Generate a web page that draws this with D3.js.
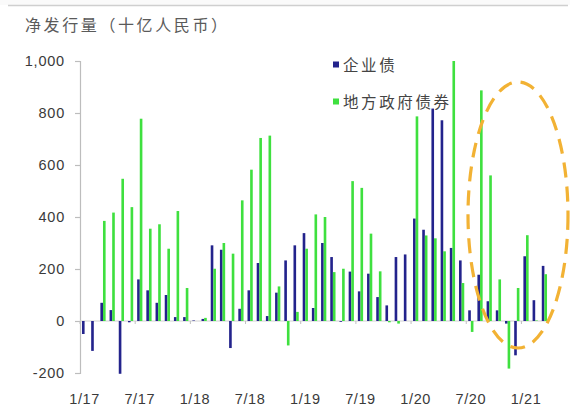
<!DOCTYPE html>
<html>
<head>
<meta charset="utf-8">
<script src="https://cdn.jsdelivr.net/npm/d3@7"></script>
<style>
  html, body { margin: 0; padding: 0; background: #fff; }
  svg { display: block; }
  text { font-family: "Liberation Sans", Arial, "Noto Sans CJK SC", sans-serif; }
  .cjk { font-family: "Noto Sans CJK SC", sans-serif; }
</style>
</head>
<body>
<svg id="chart" width="570" height="415"></svg>
<script>
// Monthly net issuance, Jan 2017 – Mar 2021 (RMB bn)
const months = [
  "2017-01","2017-02","2017-03","2017-04","2017-05","2017-06","2017-07","2017-08","2017-09","2017-10","2017-11","2017-12",
  "2018-01","2018-02","2018-03","2018-04","2018-05","2018-06","2018-07","2018-08","2018-09","2018-10","2018-11","2018-12",
  "2019-01","2019-02","2019-03","2019-04","2019-05","2019-06","2019-07","2019-08","2019-09","2019-10","2019-11","2019-12",
  "2020-01","2020-02","2020-03","2020-04","2020-05","2020-06","2020-07","2020-08","2020-09","2020-10","2020-11","2020-12",
  "2021-01","2021-02","2021-03"
];

const corporateBonds = [
  -50, -115, 70, 42, -203, -5, 160, 118, 70, 100, 15, 15,
  2, 8, 291, 274, -104, 47, 118, 223, 19, 109, 233, 291,
  338, 50, 300, 246, -3, 190, 114, 182, 92, 60, 246, 256,
  394, 351, 817, 772, 281, 233, 41, 178, 76, 41, -10, -132,
  249, 80, 212
];

const localGovBonds = [
  0, 0, 385, 417, 547, 438, 778, 355, 372, 278, 423, 127,
  0, 12, 201, 300, 259, 464, 582, 704, 713, 133, -94, 35,
  278, 410, 400, 188, 201, 538, 512, 336, 191, -5, -10, 0,
  787, 329, 318, 268, 1000, 146, -42, 887, 560, 160, -183, 127,
  330, 2, 180
];

const seriesNames = ["企业债", "地方政府债券"];
const seriesColors = ["#23238c", "#3fe03f"];

const xTickMonths = ["2017-01","2017-07","2018-01","2018-07","2019-01","2019-07","2020-01","2020-07","2021-01"];
const xTickLabels = ["1/17","7/17","1/18","7/18","1/19","7/19","1/20","7/20","1/21"];
const yTickValues = [-200, 0, 200, 400, 600, 800, 1000];

const titleText = "净发行量（十亿人民币）";

const svg = d3.select("#chart");

// header rule
svg.append("rect").attr("x", 0).attr("y", 0).attr("width", 570).attr("height", 5).attr("fill", "#fafafa");
svg.append("line")
  .attr("x1", 8).attr("x2", 568).attr("y1", 5.5).attr("y2", 5.5)
  .attr("stroke", "#cfcfcf").attr("stroke-width", 1.5);

// title
svg.append("text")
  .attr("class", "cjk")
  .attr("x", 25).attr("y", 31)
  .attr("font-size", 16).attr("letter-spacing", 2.6)
  .attr("fill", "#5a5a5a")
  .text(titleText);

const x = d3.scaleBand()
  .domain(months)
  .range([80, 549])
  .paddingInner(0.43)
  .paddingOuter(0.215);

const xSub = d3.scaleBand()
  .domain([0, 1])
  .range([0, x.bandwidth()]);

const y = d3.scaleLinear().domain([-200, 1000]).range([373, 61]);

// y axis
const yAxis = d3.axisLeft(y)
  .tickValues(yTickValues)
  .tickSize(5)
  .tickPadding(10)
  .tickFormat(d => d3.format(",")(d).replace("\u2212", "-"));

const gy = svg.append("g").attr("transform", "translate(80,0)").call(yAxis);
gy.select(".domain").attr("stroke", "#bdbdbd").attr("stroke-width", 1.2);
gy.selectAll(".tick line").attr("stroke", "#bdbdbd").attr("stroke-width", 1.2);
gy.selectAll(".tick text")
  .attr("font-size", 14.5).attr("letter-spacing", 0.8)
  .attr("fill", "#3a3a3a")
  .attr("font-family", "'Liberation Sans', Arial, sans-serif");

// zero line with half-year ticks
const zeroY = y(0);
svg.append("line")
  .attr("x1", 80).attr("x2", 549)
  .attr("y1", zeroY).attr("y2", zeroY)
  .attr("stroke", "#d0d0d0").attr("stroke-width", 1);

const step = x.step();
const bandStart = m => x(m) - step * x.paddingOuter();
svg.append("g").selectAll("line")
  .data(xTickMonths)
  .join("line")
  .attr("x1", d => bandStart(d)).attr("x2", d => bandStart(d))
  .attr("y1", zeroY).attr("y2", zeroY + 3)
  .attr("stroke", "#c0c0c0");

// x labels
svg.append("g").selectAll("text")
  .data(xTickMonths)
  .join("text")
  .attr("x", d => x(d) + x.bandwidth() / 2)
  .attr("y", 404)
  .attr("text-anchor", "middle")
  .attr("font-size", 14.5).attr("letter-spacing", 0.6)
  .attr("fill", "#3a3a3a")
  .text((d, i) => xTickLabels[i]);

// bars
const rows = months.map((m, i) => ({ m, v: [corporateBonds[i], localGovBonds[i]] }));
const groups = svg.append("g").selectAll("g")
  .data(rows)
  .join("g")
  .attr("transform", d => `translate(${x(d.m)},0)`);

groups.selectAll("rect")
  .data(d => d.v.map((v, k) => ({ v, k })))
  .join("rect")
  .attr("x", d => xSub(d.k))
  .attr("width", xSub.bandwidth())
  .attr("y", d => Math.min(y(d.v), zeroY))
  .attr("height", d => Math.abs(y(d.v) - zeroY))
  .attr("fill", d => seriesColors[d.k]);

// legend
const legend = svg.append("g");
const legendRows = [{ y: 64.5 }, { y: 101.5 }];
legendRows.forEach((r, i) => {
  legend.append("rect")
    .attr("x", 333).attr("y", r.y - 3)
    .attr("width", 6).attr("height", 6)
    .attr("fill", seriesColors[i]);
  legend.append("text")
    .attr("class", "cjk")
    .attr("x", 343).attr("y", r.y + 6)
    .attr("font-size", 15.5).attr("letter-spacing", 2.6)
    .attr("fill", "#444")
    .text(seriesNames[i]);
});

// highlight ring over the most recent months
svg.append("ellipse")
  .attr("cx", 518).attr("cy", 215)
  .attr("rx", 50).attr("ry", 133)
  .attr("fill", "none")
  .attr("stroke", "#f2b234")
  .attr("stroke-width", 3.2)
  .attr("stroke-dasharray", "15 9");
</script>
</body>
</html>
